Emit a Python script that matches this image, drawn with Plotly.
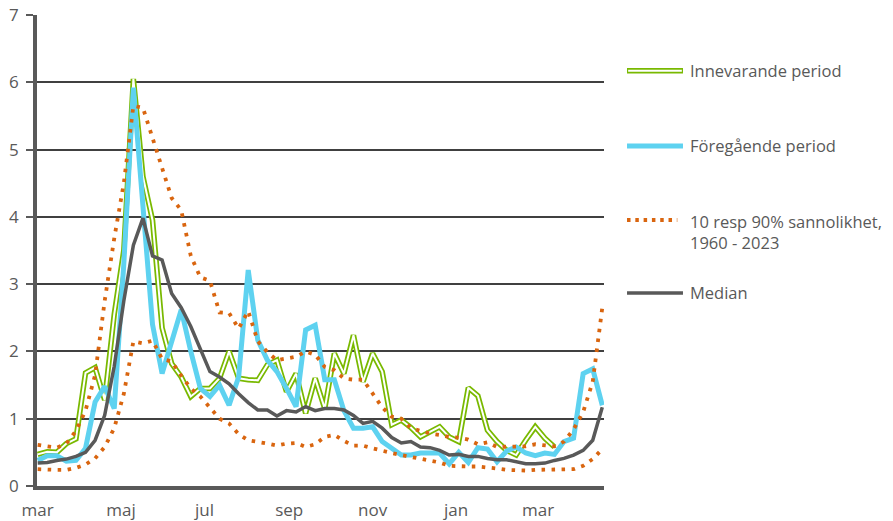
import pandas as pd
import plotly.graph_objects as go

# Weekly observations starting 1 March
weeks = pd.date_range("2023-03-01", periods=60, freq="7D")

innevarande = [0.47, 0.51, 0.50, 0.63, 0.70, 1.68, 1.76, 1.28, 2.55, 3.50,
               6.05, 4.60, 3.95, 2.35, 1.82, 1.62, 1.33, 1.45, 1.45, 1.60,
               2.00, 1.60, 1.58, 1.57, 1.80, 1.87, 1.40, 1.67, 1.08, 1.60,
               1.15, 1.97, 1.67, 2.24, 1.55, 1.97, 1.70, 0.91, 0.98, 0.87,
               0.73, 0.80, 0.88, 0.73, 0.66, 1.46, 1.34, 0.83, 0.66, 0.53,
               0.46, 0.68, 0.88, 0.71, 0.58, None, None, None, None, None]

foregaende = [0.38, 0.45, 0.45, 0.37, 0.38, 0.56, 1.25, 1.48, 1.15, 3.30,
              5.92, 4.10, 2.40, 1.67, 2.12, 2.62, 2.00, 1.45, 1.33, 1.50,
              1.20, 1.62, 3.21, 2.17, 1.87, 1.70, 1.45, 1.18, 2.32, 2.39,
              1.58, 1.58, 1.12, 0.86, 0.86, 0.88, 0.66, 0.56, 0.46, 0.46,
              0.49, 0.49, 0.49, 0.33, 0.50, 0.35, 0.57, 0.55, 0.36, 0.52,
              0.58, 0.49, 0.45, 0.49, 0.47, 0.66, 0.71, 1.67, 1.74, 1.20]

p90 = [0.61, 0.59, 0.57, 0.63, 0.82, 1.12, 1.65, 2.75, 3.68, 4.50,
       5.65, 5.62, 5.18, 4.73, 4.28, 4.10, 3.42, 3.10, 3.05, 2.58,
       2.57, 2.34, 2.60, 2.15, 1.99, 1.87, 1.89, 1.92, 2.00, 1.95,
       1.77, 1.72, 1.60, 1.58, 1.58, 1.37, 1.17, 1.03, 1.00, 0.86,
       0.82, 0.78, 0.76, 0.73, 0.72, 0.69, 0.62, 0.65, 0.58, 0.58,
       0.58, 0.59, 0.62, 0.60, 0.59, 0.66, 0.84, 1.10, 1.55, 2.65]

p10 = [0.25, 0.24, 0.24, 0.24, 0.27, 0.32, 0.41, 0.58, 0.86, 1.37,
       2.15, 2.12, 2.16, 1.89, 1.85, 1.64, 1.45, 1.33, 1.17, 1.00,
       0.93, 0.77, 0.68, 0.66, 0.63, 0.60, 0.63, 0.64, 0.58, 0.62,
       0.73, 0.76, 0.67, 0.60, 0.60, 0.56, 0.52, 0.49, 0.46, 0.43,
       0.41, 0.38, 0.35, 0.30, 0.29, 0.29, 0.29, 0.28, 0.26, 0.24,
       0.23, 0.23, 0.24, 0.24, 0.24, 0.24, 0.25, 0.30, 0.40, 0.55]

median = [0.34, 0.35, 0.38, 0.40, 0.44, 0.50, 0.68, 1.05, 1.78, 2.75,
          3.58, 3.98, 3.42, 3.36, 2.86, 2.65, 2.37, 2.02, 1.70, 1.62,
          1.52, 1.37, 1.24, 1.13, 1.13, 1.04, 1.12, 1.10, 1.18, 1.12,
          1.15, 1.15, 1.13, 1.05, 0.93, 0.96, 0.86, 0.72, 0.64, 0.66,
          0.58, 0.57, 0.53, 0.46, 0.47, 0.44, 0.44, 0.41, 0.39, 0.39,
          0.36, 0.33, 0.33, 0.34, 0.38, 0.41, 0.46, 0.53, 0.68, 1.17]

month_ticks = ["2023-03-01", "2023-05-01", "2023-07-01", "2023-09-01",
               "2023-11-01", "2024-01-01", "2024-03-01"]
month_labels = ["mar", "maj", "jul", "sep", "nov", "jan", "mar"]

legend_labels = ["Innevarande period", "Föregående period",
                 "10 resp 90% sannolikhet,<br>1960 - 2023", "Median"]

GREEN = "#79B900"
BLUE = "#5ED2F0"
ORANGE = "#D9650F"
GRAY = "#595959"
TXT = "#595959"
FONT = "Open Sans"
DOTS = "3.5px,6.5px"

fig = go.Figure()
# current period: double line (green outer, white core)
fig.add_trace(go.Scatter(x=weeks, y=innevarande, mode="lines",
                         line=dict(color=GREEN, width=5.5), showlegend=False,
                         connectgaps=False))
fig.add_trace(go.Scatter(x=weeks, y=innevarande, mode="lines",
                         line=dict(color="white", width=2), showlegend=False,
                         connectgaps=False))
fig.add_trace(go.Scatter(x=weeks, y=foregaende, mode="lines",
                         line=dict(color=BLUE, width=5), showlegend=False))
fig.add_trace(go.Scatter(x=weeks, y=p10, mode="lines",
                         line=dict(color=ORANGE, width=3.8, dash=DOTS),
                         showlegend=False))
fig.add_trace(go.Scatter(x=weeks, y=p90, mode="lines",
                         line=dict(color=ORANGE, width=3.8, dash=DOTS),
                         showlegend=False))
fig.add_trace(go.Scatter(x=weeks, y=median, mode="lines",
                         line=dict(color=GRAY, width=3.5), showlegend=False))

# manual legend (paper coordinates)
lx0, lx1, tx = 1.0406, 1.1393, 1.148
ly = [0.8817, 0.7219, 0.5648, 0.4098]
fig.add_shape(type="line", xref="paper", yref="paper", x0=lx0, x1=lx1,
              y0=ly[0], y1=ly[0], line=dict(color=GREEN, width=5.5))
fig.add_shape(type="line", xref="paper", yref="paper", x0=lx0 + 0.002, x1=lx1 - 0.002,
              y0=ly[0], y1=ly[0], line=dict(color="white", width=2))
fig.add_shape(type="line", xref="paper", yref="paper", x0=lx0, x1=lx1,
              y0=ly[1], y1=ly[1], line=dict(color=BLUE, width=5))
fig.add_shape(type="line", xref="paper", yref="paper", x0=lx0, x1=lx1 - 0.01,
              y0=ly[2], y1=ly[2], line=dict(color=ORANGE, width=3.8, dash="3.5px,4.8px"))
fig.add_shape(type="line", xref="paper", yref="paper", x0=lx0, x1=lx1,
              y0=ly[3], y1=ly[3], line=dict(color=GRAY, width=3.5))

for i, lab in enumerate(legend_labels):
    yy = ly[i]
    yanchor = "middle"
    if i == 2:
        yy = ly[i] + 0.025
        yanchor = "top"
    fig.add_annotation(x=tx, y=yy, xref="paper", yref="paper", text=lab,
                       showarrow=False, xanchor="left", yanchor=yanchor,
                       align="left", font=dict(family=FONT, size=16.5, color=TXT))

fig.update_layout(
    width=893, height=521,
    margin=dict(l=37, r=289, t=15, b=35),
    paper_bgcolor="white", plot_bgcolor="white",
    font=dict(family=FONT, size=17, color=TXT),
    showlegend=False,
)
fig.update_xaxes(
    range=["2023-02-28 12:00", "2024-04-18 06:00"],
    tickvals=month_ticks, ticktext=month_labels,
    showgrid=False, zeroline=False, automargin=False,
    showline=True, linecolor=GRAY, linewidth=4,
    ticks="", ticklabelstandoff=6, ticklabeloverflow="allow",
    tickfont=dict(family=FONT, size=17, color=TXT),
)
fig.update_yaxes(
    range=[0, 7], dtick=1, tick0=0, automargin=False,
    showgrid=True, gridcolor="#404040", gridwidth=1.5,
    zeroline=False,
    showline=True, linecolor=GRAY, linewidth=3.5,
    ticks="outside", ticklen=7, tickwidth=2, tickcolor=GRAY,
    ticklabelstandoff=4, ticklabeloverflow="allow",
    tickfont=dict(family=FONT, size=17, color=TXT),
)

# remove the default 8px page margin so the figure fills the window exactly
fig.write_html("out.html", config={"displayModeBar": False},
               post_script="document.body.style.margin='0px';")
